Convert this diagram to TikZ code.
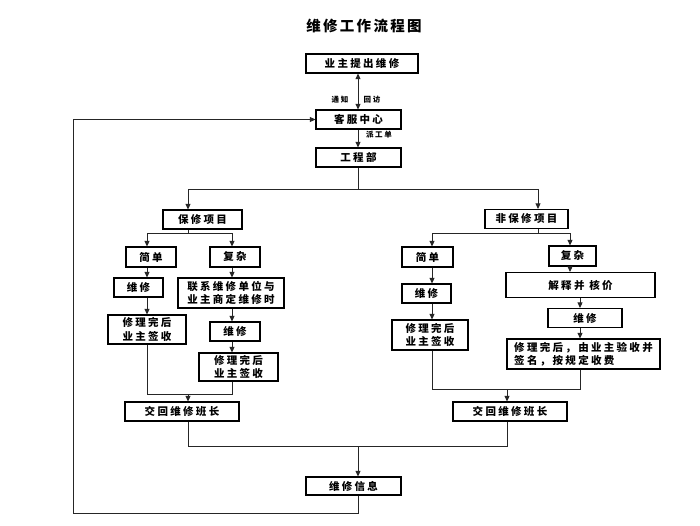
\documentclass[tikz,border=0pt]{standalone}
\usepackage{fontspec}
\usetikzlibrary{arrows.meta}
\newfontfamily\cjk[LetterSpace=22]{Noto Sans CJK SC}
\newfontfamily\cjkt[LetterSpace=16]{Noto Sans CJK SC}
\tikzset{
  box/.style={draw=black, line width=1.2pt, minimum height=19pt, inner sep=1pt,
    font=\cjk\bfseries\fontsize{10.5}{13.5}\selectfont},
  conn/.style={line width=0.9pt, draw=black!85},
  arr/.style={conn, -{Triangle[length=5.5pt,width=5pt]}},
  lbl/.style={inner sep=0pt, font=\cjk\bfseries\fontsize{7.5}{8}\selectfont},
}
\begin{document}
\begin{tikzpicture}[x=1pt, y=-1pt]
\fill[white] (0,0) rectangle (700,525);
\useasboundingbox (0,0) rectangle (700,525);

\node[inner sep=0pt, font=\cjkt\bfseries\fontsize{14.5}{16}\selectfont] (title) at (364,25.5) {维修工作流程图};

\node[box, minimum width=112pt] (yz) at (362,63.5) {业主提出维修};
\node[box, minimum width=85pt] (kf) at (358.5,119.5) {客服中心};
\node[box, minimum width=85pt] (gc) at (358.5,157.5) {工程部};
\node[box, minimum width=79pt] (bx) at (202.5,219.5) {保修项目};
\node[box, minimum width=83pt] (fb) at (526.5,219) {非保修项目};

\node[box, minimum width=50pt, minimum height=20pt] (ljd) at (151,257) {简单};
\node[box, minimum width=50pt, minimum height=20pt] (lfz) at (235,257) {复杂};
\node[box, minimum width=49pt] (lwx1) at (138.5,287.5) {维修};
\node[box, minimum width=78pt, minimum height=29pt, align=center] (lwc1) at (147,329.5) {修理完后\\业主签收};
\node[box, minimum width=106pt, minimum height=30pt, align=center] (llx) at (231,293) {联系维修单位与\\业主商定维修时};
\node[box, minimum width=50pt] (lwx2) at (235,331.5) {维修};
\node[box, minimum width=79pt, minimum height=28pt, align=center] (lwc2) at (238.5,367) {修理完后\\业主签收};
\node[box, minimum width=114pt] (ljh) at (182,411.5) {交回维修班长};

\node[box, minimum width=51pt, minimum height=20pt] (rjd) at (427.5,257) {简单};
\node[box, minimum width=47pt, minimum height=20pt] (rfz) at (572.5,256) {复杂};
\node[box, minimum width=49pt] (rwx1) at (426.5,293.5) {维修};
\node[box, minimum width=76pt, minimum height=30pt, align=center] (rwc1) at (430,335) {修理完后\\业主签收};
\node[box, minimum width=149pt, minimum height=25pt] (rjs) at (580.5,285) {解释并 核价};
\node[box, minimum width=74pt] (rwx2) at (585,318) {维修};
\node[box, minimum width=153pt, minimum height=30pt, align=left] (rwc2) at (583.5,354) {修理完后，由业主验收并\\签名，按规定收费};
\node[box, minimum width=114pt] (rjh) at (510,411.5) {交回维修班长};

\node[box, minimum width=95pt, minimum height=18pt] (xx) at (353.5,486) {维修信息};

\node[lbl] (tz) at (340,100) {通知};
\node[lbl] (hf) at (372,100) {回访};
\node[lbl] (pg) at (379,135) {派工单};

% column coordinates
\coordinate (cM) at (358,0);
\coordinate (cE) at (188,0);
\coordinate (cF) at (538,0);
\coordinate (cA) at (147,0);
\coordinate (cB) at (232,0);
\coordinate (cC) at (432,0);
\coordinate (cD) at (570,0);
\coordinate (cH) at (580,0);
\coordinate (cG) at (507,0);

\draw[conn, {Triangle[length=5.5pt,width=5pt]}-{Triangle[length=5.5pt,width=5pt]}] (cM |- yz.south) -- (cM |- kf.north);
\draw[arr] (cM |- kf.south) -- (cM |- gc.north);
\coordinate (j1) at (358,189);
\draw[conn] (cM |- gc.south) -- (j1);
\draw[arr] (j1) -| (cE |- bx.north);
\draw[arr] (j1) -| (cF |- fb.north);

% left branch
\coordinate (jL) at (188,233);
\draw[conn] (cE |- bx.south) -- (jL);
\draw[arr] (jL) -| (cA |- ljd.north);
\draw[arr] (jL) -| (cB |- lfz.north);
\draw[arr] (cA |- ljd.south) -- (cA |- lwx1.north);
\draw[arr] (cA |- lwx1.south) -- (cA |- lwc1.north);
\draw[arr] (cB |- lfz.south) -- (cB |- llx.north);
\draw[arr] (cB |- llx.south) -- (cB |- lwx2.north);
\draw[arr] (cB |- lwx2.south) -- (cB |- lwc2.north);
\coordinate (jL2) at (188,394);
\draw[conn] (cA |- lwc1.south) |- (cB |- jL2) -- (cB |- lwc2.south);
\draw[arr] (jL2) -- (cE |- ljh.north);

% right branch
\coordinate (jR) at (538,233);
\draw[conn] (cF |- fb.south) -- (jR);
\draw[arr] (jR) -| (cC |- rjd.north);
\draw[arr] (jR) -| (cD |- rfz.north);
\draw[arr] (cC |- rjd.south) -- (cC |- rwx1.north);
\draw[arr] (cC |- rwx1.south) -- (cC |- rwc1.north);
\draw[arr] (cD |- rfz.south) -- (cD |- rjs.north);
\draw[arr] (cH |- rjs.south) -- (cH |- rwx2.north);
\draw[arr] (cH |- rwx2.south) -- (cH |- rwc2.north);
\coordinate (jR2) at (507,389);
\draw[conn] (cC |- rwc1.south) |- (cH |- jR2) -- (cH |- rwc2.south);
\draw[arr] (jR2) -- (cG |- rjh.north);

% merge
\coordinate (jB) at (358,446);
\draw[conn] (cE |- ljh.south) |- (jB);
\draw[conn] (cG |- rjh.south) |- (jB);
\draw[arr] (jB) -- (cM |- xx.north);

% loop back
\coordinate (lb) at (73,513);
\draw[arr] (cM |- xx.south) |- (lb) |- (kf.west);
\end{tikzpicture}
\end{document}
